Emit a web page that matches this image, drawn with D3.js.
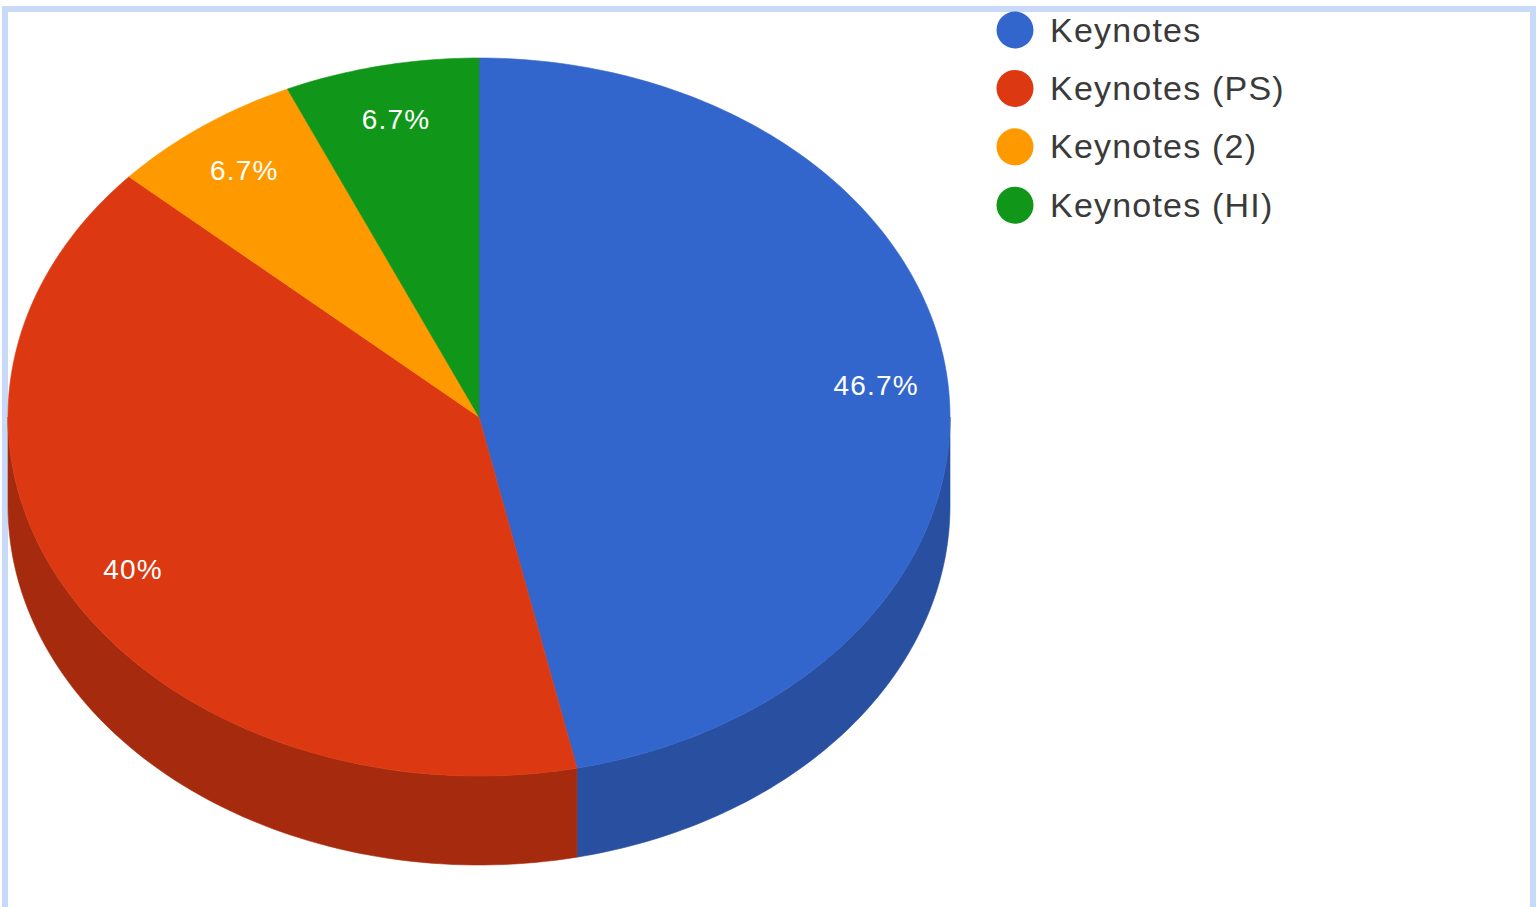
<!DOCTYPE html>
<html>
<head>
<meta charset="utf-8">
<script src="https://cdn.jsdelivr.net/npm/d3@7"></script>
<style>
  html, body { margin: 0; padding: 0; background: #fff; }
  svg { display: block; }
</style>
</head>
<body>
<svg id="chart" width="1536" height="907"></svg>
<script>
const categories = ["Keynotes", "Keynotes (PS)", "Keynotes (2)", "Keynotes (HI)"];
const values = [7, 6, 1, 1];
const colors = ["#3366cc", "#dc3912", "#ff9900", "#109618"];
const sideColors = ["#284fa0", "#a62b0e", "#c27400", "#0c7212"];

const svg = d3.select("#chart");
const W = 1536, H = 907;

// frame border
const border = "#c9daf8";
svg.append("rect").attr("x", 2).attr("y", 6).attr("width", 6).attr("height", H - 6).attr("fill", border);
svg.append("rect").attr("x", 2).attr("y", 6).attr("width", W - 2).attr("height", 6).attr("fill", border);
svg.append("rect").attr("x", W - 6).attr("y", 6).attr("width", 6).attr("height", H - 6).attr("fill", border);

const cx = 479, cy = 417, rx = 471, ry = 359, depth = 89;
const total = d3.sum(values);

const pie = d3.pie().sort(null).value(d => d.value);
const data = categories.map((c, i) => ({ name: c, value: values[i], color: colors[i], side: sideColors[i] }));
const arcs = pie(data);

// point on ellipse for angle a (clockwise from 12 o'clock)
const pt = (a, dy = 0, f = 1) => [cx + rx * f * Math.sin(a), cy - ry * f * Math.cos(a) + dy];
const line = d3.line();

// side walls (visible front half: angles between PI/2 and 3PI/2)
const sideG = svg.append("g");
arcs.forEach(a => {
  const s = Math.max(a.startAngle, Math.PI / 2);
  const e = Math.min(a.endAngle, 3 * Math.PI / 2);
  if (e <= s) return;
  const n = 80;
  const top = d3.range(n + 1).map(k => pt(s + (e - s) * k / n));
  const bot = d3.range(n + 1).map(k => pt(e - (e - s) * k / n, depth));
  sideG.append("path")
    .attr("d", line(top.concat(bot)) + "Z")
    .attr("fill", a.data.side)
    .attr("stroke", a.data.side)
    .attr("stroke-width", 0.6);
});

// top faces
const topG = svg.append("g");
arcs.forEach(a => {
  const n = Math.max(4, Math.ceil((a.endAngle - a.startAngle) * 60));
  const rim = d3.range(n + 1).map(k => pt(a.startAngle + (a.endAngle - a.startAngle) * k / n));
  topG.append("path")
    .attr("d", line([[cx, cy]].concat(rim)) + "Z")
    .attr("fill", a.data.color)
    .attr("stroke", a.data.color)
    .attr("stroke-width", 0.6);
});

// slice labels
const fmt = v => {
  const p = Math.round(v / total * 1000) / 10;
  return (p % 1 === 0 ? p.toFixed(0) : p.toFixed(1)) + "%";
};
arcs.forEach(a => {
  const mid = (a.startAngle + a.endAngle) / 2;
  const [x, y] = pt(mid, 0, 0.848);
  svg.append("text")
    .attr("x", x).attr("y", y)
    .attr("text-anchor", "middle")
    .attr("dominant-baseline", "central")
    .attr("font-family", "Liberation Sans, Arial, sans-serif")
    .attr("font-size", 28)
    .attr("letter-spacing", 1.2)
    .attr("fill", "#ffffff")
    .text(fmt(a.data.value));
});

// legend
const leg = svg.append("g").attr("transform", "translate(1015,30)");
data.forEach((d, i) => {
  const g = leg.append("g").attr("transform", `translate(0,${i * 58.4})`);
  g.append("circle").attr("r", 18.5).attr("fill", d.color);
  g.append("text")
    .attr("x", 35).attr("y", 11.5)
    .attr("font-family", "Liberation Sans, Arial, sans-serif")
    .attr("font-size", 34)
    .attr("letter-spacing", 1.2)
    .attr("fill", "#3a3a3a")
    .text(d.name);
});
</script>
</body>
</html>
